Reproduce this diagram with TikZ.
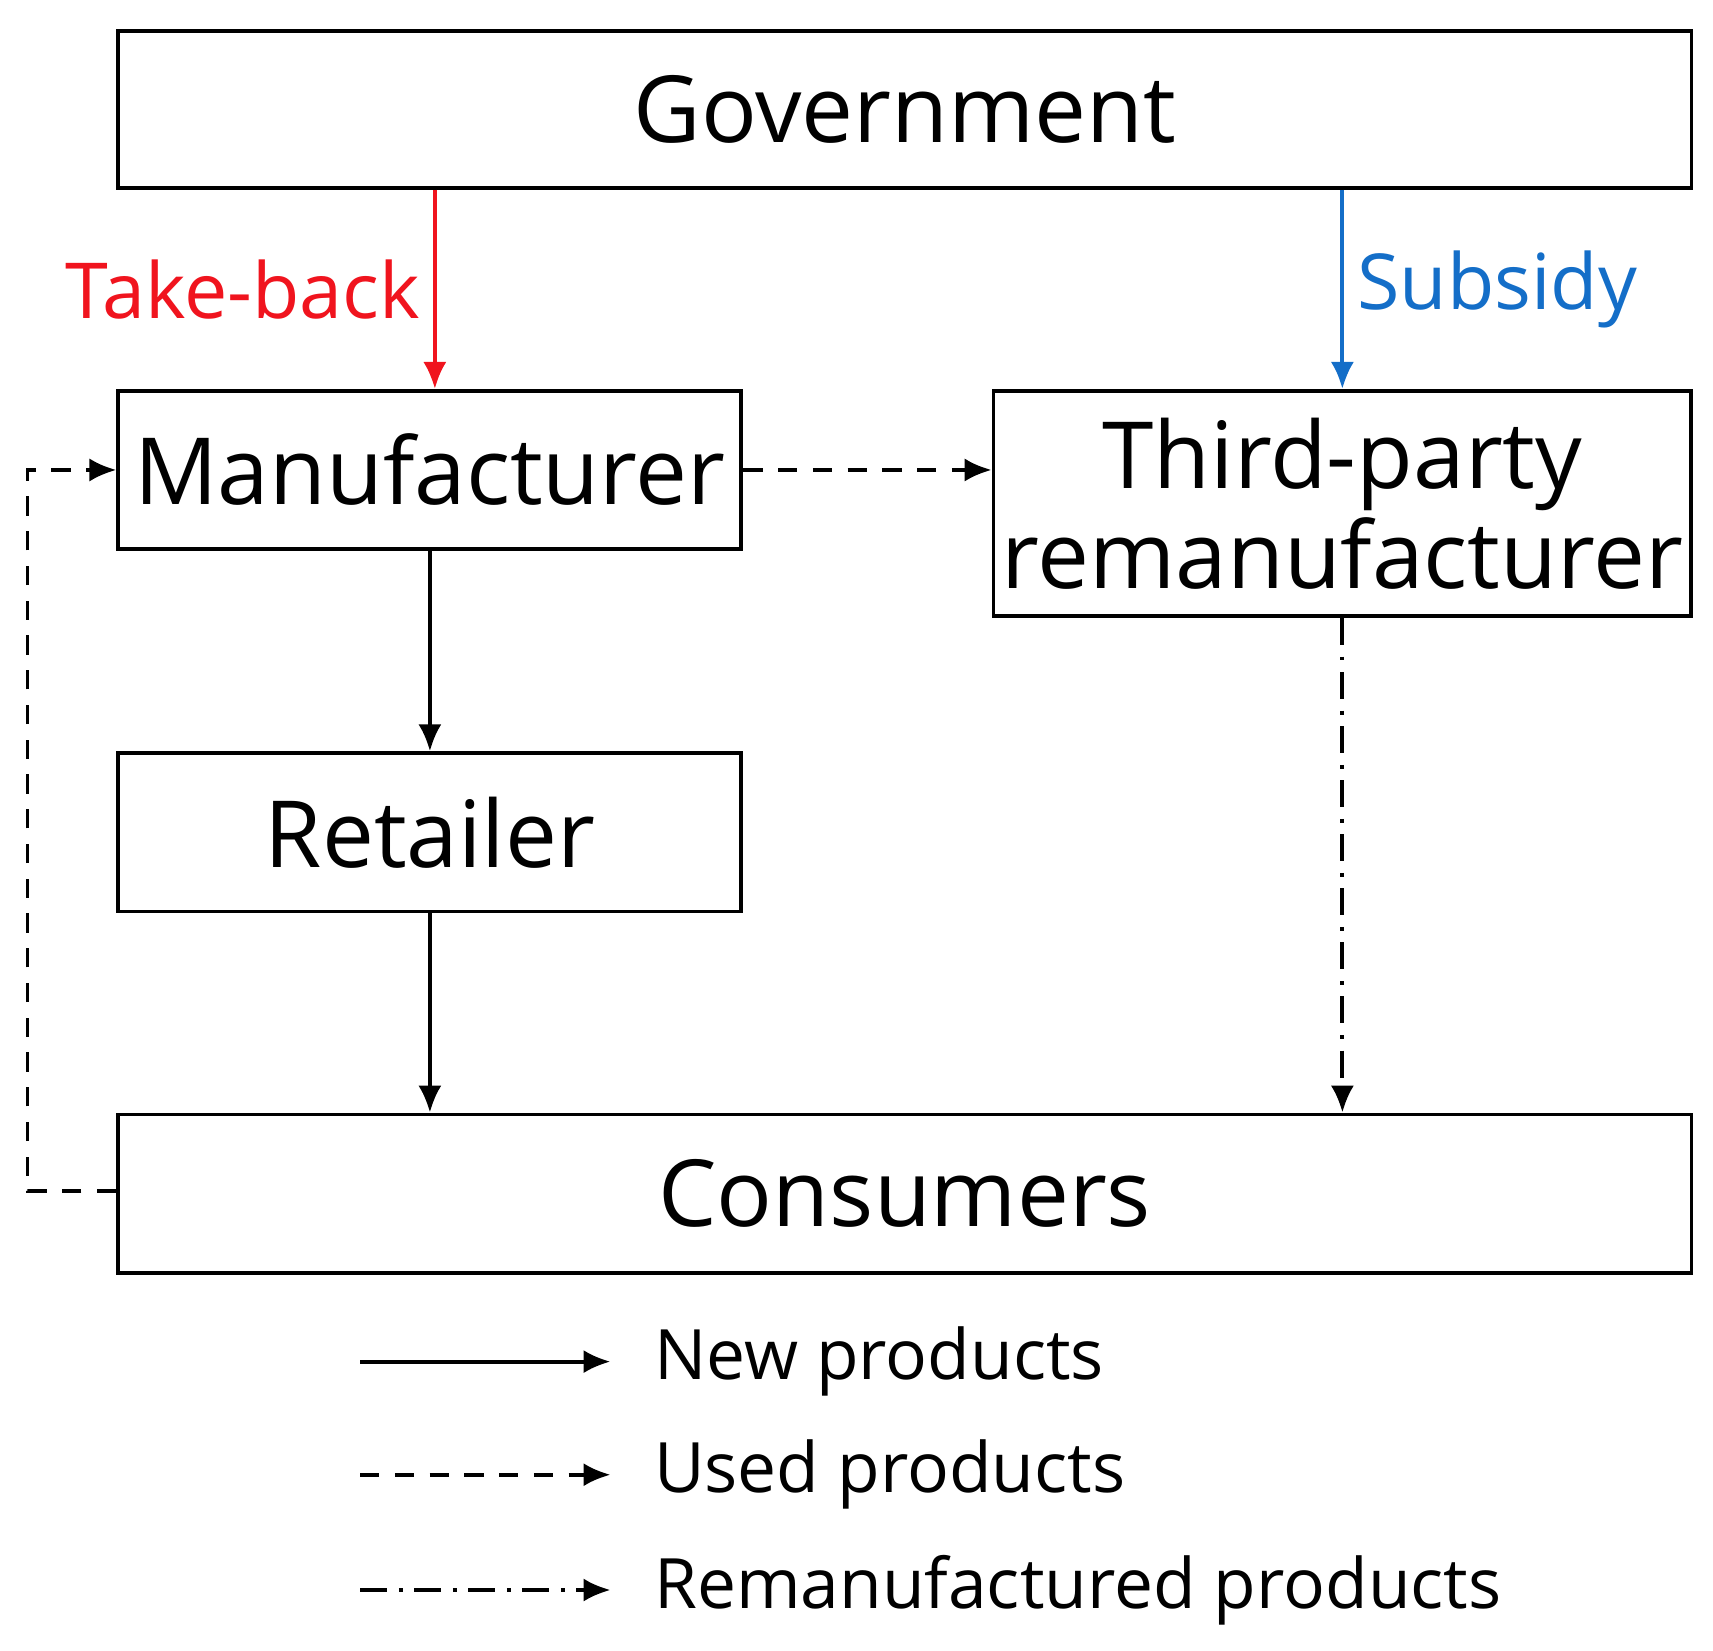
\documentclass[tikz,border=0pt]{standalone}
\usepackage{fontspec}
\setmainfont{Open Sans}
\usetikzlibrary{positioning, arrows.meta, calc}
\definecolor{takered}{RGB}{240,20,30}
\definecolor{subblue}{RGB}{20,110,200}
\begin{document}
\begin{tikzpicture}[
            x=0.01cm, y=-0.01cm,
            box/.style={draw, line width=1pt, align=center, inner sep=0pt, font=\fontsize{24}{26}\selectfont},
            arrow/.style={-{Latex[length=7pt,width=6pt]}, line width=1pt},
            used/.style={arrow, dash pattern=on 5pt off 4pt},
            reman/.style={arrow, dash pattern=on 7pt off 3pt on 1pt off 3pt},
            legend/.style={font=\fontsize{18}{20}\selectfont, anchor=west, inner sep=0pt}
          ]
        \useasboundingbox (0,0) rectangle (1560,1503);

        \node[box, minimum width=14.32cm, minimum height=1.43cm] (gov) at (824,99.5) {Government};
        \node[box, minimum width=5.67cm, minimum height=1.44cm] (man) at (391.5,428) {Manufacturer};
        \node[box, minimum width=6.35cm, minimum height=2.05cm, font=\fontsize{24}{26}\selectfont] (tpr) at (1222.5,458.5) {Third-party\\remanufacturer};
        \node[box, minimum width=5.67cm, minimum height=1.44cm] (ret) at (391.5,758) {Retailer};
        \node[box, minimum width=14.32cm, minimum height=1.44cm] (con) at (824,1087) {Consumers};

        \draw[arrow, takered] (gov.south -| 396,0) -- node[left, text=takered, font=\fontsize{20}{22}\selectfont] {Take-back} (man.north -| 396,0);
        \draw[arrow, subblue] (gov.south -| tpr.north) -- node[right, text=subblue, font=\fontsize{20}{22}\selectfont] {Subsidy} (tpr.north);
        \draw[arrow] (man) -- (ret);
        \draw[arrow] (ret) -- (con.north -| ret.south);
        \draw[reman] (tpr) -- (con.north -| tpr.south);
        \draw[used] (man) -- (tpr.west |- man.east);
        \coordinate (loop) at (25,1085);
        \draw[used] (con.west |- loop) -- (loop) |- (man.west);

        % legend
        \coordinate (l1) at (328,1240);
        \coordinate (l2) at (328,1343);
        \coordinate (l3) at (328,1448);
        \coordinate (e1) at (556,1240);
        \coordinate (e2) at (556,1343);
        \coordinate (e3) at (556,1448);
        \draw[arrow] (l1) -- (e1);
        \draw[used] (l2) -- (e2);
        \draw[reman] (l3) -- (e3);
        \node[legend] (t1) at (595,1240) {New products};
        \node[legend] (t2) at (595,1343) {Used products};
        \node[legend] (t3) at (595,1448) {Remanufactured products};
\end{tikzpicture}
\end{document}
